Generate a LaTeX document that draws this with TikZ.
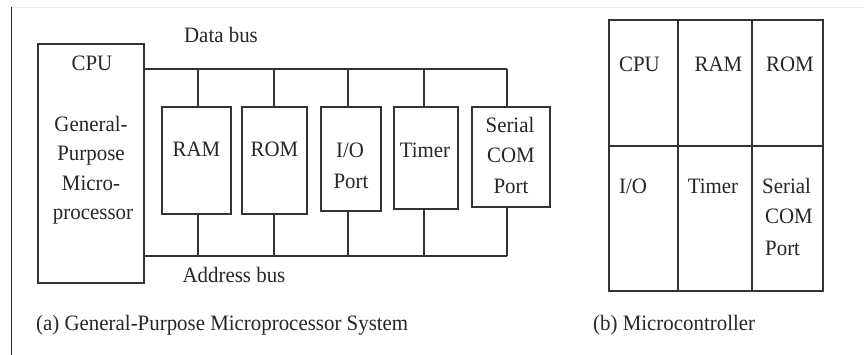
\documentclass[tikz,border=0pt]{standalone}
\usepackage{fontspec}
\setmainfont{Liberation Serif}[FakeStretch=0.95]
\begin{document}
\begin{tikzpicture}[x=1pt,y=-1pt,
  box/.style={draw=black!80, line width=1.3pt, inner sep=0pt},
  wire/.style={draw=black!80, line width=1.3pt},
  lbl/.style={anchor=base, inner sep=0pt, font=\fontsize{22}{26}\selectfont, text=black!85},
  lbll/.style={anchor=base west, inner sep=0pt, font=\fontsize{22}{26}\selectfont, text=black!85}]
\useasboundingbox (0,0) rectangle (864,355);
% page edges
\draw[black!8, line width=0.8pt] (12,7) -- (864,7);
\draw[black!85, line width=1.3pt] (11.5,7) -- (11.5,355);

% (a) system
\node[box, minimum width=106pt, minimum height=239pt] (cpu) at (91,163.5) {};
\node[box, minimum width=69pt, minimum height=107pt] (ram) at (196.5,160.5) {};
\node[box, minimum width=65pt, minimum height=107pt] (rom) at (274.5,160.5) {};
\node[box, minimum width=60pt, minimum height=104pt] (io) at (351,159) {};
\node[box, minimum width=64pt, minimum height=102pt] (tmr) at (426,158) {};
\node[box, minimum width=78pt, minimum height=100pt] (ser) at (511,157) {};

\coordinate (dbus) at (0,69);
\coordinate (abus) at (0,256);
\coordinate (ramt) at ([xshift=1.5pt]ram.north);
\coordinate (romt) at ([xshift=-0.5pt]rom.north);
\coordinate (iot) at ([xshift=-3pt]io.north);
\coordinate (tmrt) at ([xshift=-2pt]tmr.north);
\coordinate (sert) at ([xshift=-4pt]ser.north);
\coordinate (ramb) at ([xshift=1.5pt]ram.south);
\coordinate (romb) at ([xshift=-0.5pt]rom.south);
\coordinate (iob) at ([xshift=-3pt]io.south);
\coordinate (tmrb) at ([xshift=-2pt]tmr.south);
\coordinate (serb) at ([xshift=-4pt]ser.south);

\draw[wire] (cpu.east |- dbus) -- (sert |- dbus);
\draw[wire] (cpu.east |- abus) -- (serb |- abus);
\foreach \n in {ramt,romt,iot,tmrt,sert} \draw[wire] (\n) -- (\n |- dbus);
\foreach \n in {ramb,romb,iob,tmrb,serb} \draw[wire] (\n) -- (\n |- abus);

\node[lbl] (tdata) at (221,43) {Data bus};
\node[lbl] (taddr) at (234,283) {Address bus};
\node[lbl] (tcpu) at (92,71) {CPU};
\node[lbl] (tg1) at (91,132) {General-};
\node[lbl] (tg2) at (91,161) {Purpose};
\node[lbl] (tg3) at (91,191) {Micro-};
\node[lbl] (tg4) at (93,220) {processor};
\node[lbl] (tram) at (196.5,157) {RAM};
\node[lbl] (trom) at (274.5,157) {ROM};
\node[lbl] (tio1) at (350,158) {I/O};
\node[lbl] (tio2) at (351,189) {Port};
\node[lbl] (ttmr) at (425,158) {Timer};
\node[lbl] (ts1) at (510,133) {Serial};
\node[lbl] (ts2) at (511,163) {COM};
\node[lbl] (ts3) at (511,194) {Port};
\node[lbll] (capa) at (36,330) {(a) General-Purpose Microprocessor System};

% (b) microcontroller
\node[box, minimum width=69pt, minimum height=126pt] (c11) at (643.5,83) {};
\node[box, minimum width=74pt, minimum height=126pt] (c12) at (715,83) {};
\node[box, minimum width=71pt, minimum height=126pt] (c13) at (787.5,83) {};
\node[box, minimum width=69pt, minimum height=145pt] (c21) at (643.5,218.5) {};
\node[box, minimum width=74pt, minimum height=145pt] (c22) at (715,218.5) {};
\node[box, minimum width=71pt, minimum height=145pt] (c23) at (787.5,218.5) {};

\node[lbl] (mcpu) at (639.5,72) {CPU};
\node[lbl] (mram) at (718.5,72) {RAM};
\node[lbl] (mrom) at (790,72) {ROM};
\node[lbll] (mio) at (619,194) {I/O};
\node[lbl] (mtmr) at (713,194) {Timer};
\node[lbll] (ms1) at (762,194) {Serial};
\node[lbll] (ms2) at (765,224) {COM};
\node[lbll] (ms3) at (765,255) {Port};
\node[lbll] (capb) at (593,330) {(b) Microcontroller};
\end{tikzpicture}
\end{document}
